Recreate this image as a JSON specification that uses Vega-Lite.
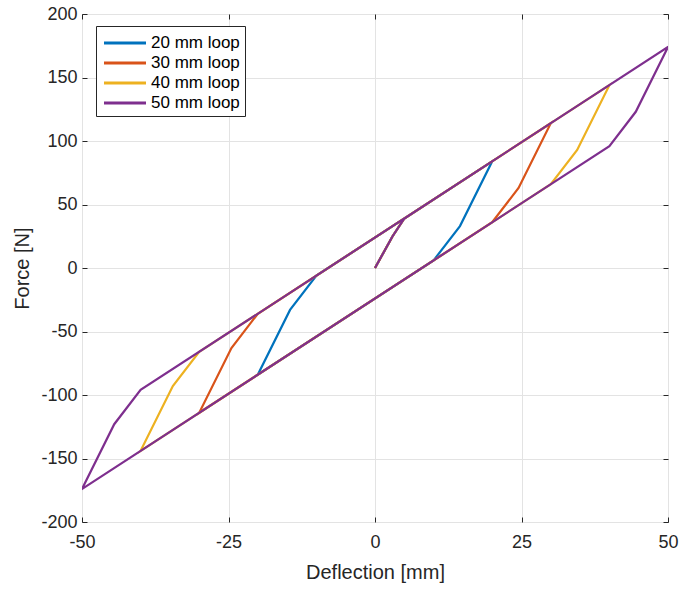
{
  "$schema": "https://vega.github.io/schema/vega-lite/v6.json",
  "width": 586,
  "height": 508,
  "autosize": {"type": "none"},
  "padding": {"left": 82, "top": 14, "right": 14, "bottom": 70},
  "background": "white",
  "config": {
    "font": "Liberation Sans",
    "view": {"stroke": "#262626", "strokeWidth": 1},
    "axis": {"labelFont": "Liberation Sans", "titleFont": "Liberation Sans", "labelColor": "#262626", "titleColor": "#262626", "domainColor": "#262626", "tickColor": "#262626", "gridColor": "#e3e3e3", "labelFontSize": 18, "titleFontSize": 20, "titleFontWeight": "normal", "labelFlush": false}
  },
  "data": {"values": [
    {"loop": "20 mm loop", "i": 0, "d": 0, "f": 0},
    {"loop": "20 mm loop", "i": 1, "d": 3, "f": 25},
    {"loop": "20 mm loop", "i": 2, "d": 5, "f": 39},
    {"loop": "20 mm loop", "i": 3, "d": 20, "f": 84},
    {"loop": "20 mm loop", "i": 4, "d": 14.5, "f": 33},
    {"loop": "20 mm loop", "i": 5, "d": 10, "f": 6},
    {"loop": "20 mm loop", "i": 6, "d": -20, "f": -84},
    {"loop": "20 mm loop", "i": 7, "d": -14.5, "f": -33},
    {"loop": "20 mm loop", "i": 8, "d": -10, "f": -6},
    {"loop": "20 mm loop", "i": 9, "d": 20, "f": 84},
    {"loop": "30 mm loop", "i": 0, "d": 0, "f": 0},
    {"loop": "30 mm loop", "i": 1, "d": 3, "f": 25},
    {"loop": "30 mm loop", "i": 2, "d": 5, "f": 39},
    {"loop": "30 mm loop", "i": 3, "d": 30, "f": 114},
    {"loop": "30 mm loop", "i": 4, "d": 24.5, "f": 63},
    {"loop": "30 mm loop", "i": 5, "d": 20, "f": 36},
    {"loop": "30 mm loop", "i": 6, "d": -30, "f": -114},
    {"loop": "30 mm loop", "i": 7, "d": -24.5, "f": -63},
    {"loop": "30 mm loop", "i": 8, "d": -20, "f": -36},
    {"loop": "30 mm loop", "i": 9, "d": 30, "f": 114},
    {"loop": "40 mm loop", "i": 0, "d": 0, "f": 0},
    {"loop": "40 mm loop", "i": 1, "d": 3, "f": 25},
    {"loop": "40 mm loop", "i": 2, "d": 5, "f": 39},
    {"loop": "40 mm loop", "i": 3, "d": 40, "f": 144},
    {"loop": "40 mm loop", "i": 4, "d": 34.5, "f": 93},
    {"loop": "40 mm loop", "i": 5, "d": 30, "f": 66},
    {"loop": "40 mm loop", "i": 6, "d": -40, "f": -144},
    {"loop": "40 mm loop", "i": 7, "d": -34.5, "f": -93},
    {"loop": "40 mm loop", "i": 8, "d": -30, "f": -66},
    {"loop": "40 mm loop", "i": 9, "d": 40, "f": 144},
    {"loop": "50 mm loop", "i": 0, "d": 0, "f": 0},
    {"loop": "50 mm loop", "i": 1, "d": 3, "f": 25},
    {"loop": "50 mm loop", "i": 2, "d": 5, "f": 39},
    {"loop": "50 mm loop", "i": 3, "d": 50, "f": 174},
    {"loop": "50 mm loop", "i": 4, "d": 44.5, "f": 123},
    {"loop": "50 mm loop", "i": 5, "d": 40, "f": 96},
    {"loop": "50 mm loop", "i": 6, "d": -50, "f": -174},
    {"loop": "50 mm loop", "i": 7, "d": -44.5, "f": -123},
    {"loop": "50 mm loop", "i": 8, "d": -40, "f": -96},
    {"loop": "50 mm loop", "i": 9, "d": 50, "f": 174}
  ]},
  "layer": [
    {
      "mark": {"type": "line", "strokeWidth": 2.2, "clip": true},
      "encoding": {
        "x": {"field": "d", "type": "quantitative", "scale": {"domain": [-50, 50], "nice": false, "zero": false},
          "axis": {"title": "Deflection [mm]", "values": [-50, -25, 0, 25, 50], "labelExpr": "replace(datum.label, '\u2212', '-')", "tickSize": -5, "labelPadding": 16, "titlePadding": 11, "domain": false}},
        "y": {"field": "f", "type": "quantitative", "scale": {"domain": [-200, 200], "nice": false},
          "axis": {"title": "Force [N]", "values": [-200, -150, -100, -50, 0, 50, 100, 150, 200], "labelExpr": "replace(datum.label, '\u2212', '-')", "tickSize": -5, "labelPadding": 10, "titlePadding": 8, "domain": false}},
        "color": {"field": "loop", "type": "nominal",
          "scale": {"domain": ["20 mm loop", "30 mm loop", "40 mm loop", "50 mm loop"], "range": ["#0072BD", "#D95319", "#EDB120", "#7E2F8E"]},
          "legend": {"title": null, "orient": "none", "legendX": 14, "legendY": 12, "fillColor": "white", "strokeColor": "#262626", "padding": 5, "labelFontSize": 17, "labelColor": "#000000", "symbolType": "M-2,0H2", "symbolSize": 441, "symbolOffset": 12, "symbolStrokeWidth": 3, "rowPadding": 0, "labelOffset": 14}},
        "order": {"field": "i", "type": "quantitative"}
      }
    },
    {
      "mark": {"type": "point", "opacity": 0},
      "encoding": {
        "x": {"field": "d", "type": "quantitative", "scale": {"domain": [-50, 50], "nice": false, "zero": false},
          "axis": {"orient": "top", "title": null, "labels": false, "grid": false, "values": [-50, -25, 0, 25, 50], "tickSize": -5, "domain": false}},
        "y": {"field": "f", "type": "quantitative", "scale": {"domain": [-200, 200], "nice": false},
          "axis": {"orient": "right", "title": null, "labels": false, "grid": false, "values": [-200, -150, -100, -50, 0, 50, 100, 150, 200], "tickSize": -5, "domain": false}}
      }
    }
  ],
  "resolve": {"scale": {"x": "independent", "y": "independent"}, "axis": {"x": "independent", "y": "independent"}}
}
